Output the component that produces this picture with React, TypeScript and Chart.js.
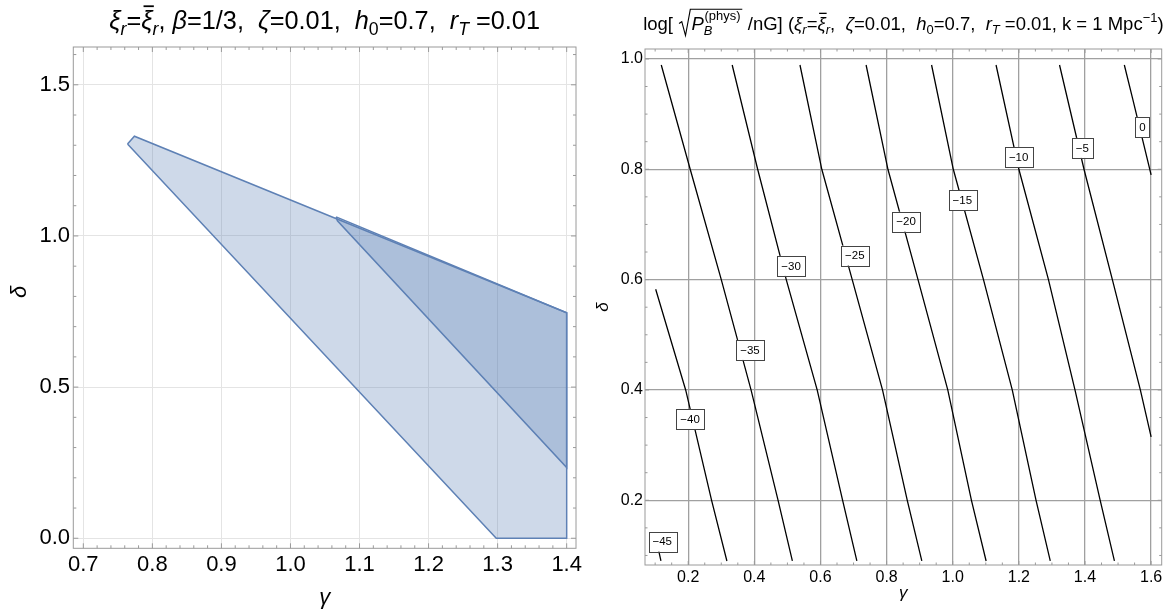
import React, { useEffect, useRef } from 'react';
import { Chart, registerables } from 'chart.js';

Chart.register(...registerables);

const FONT = '"Liberation Sans", Arial, Helvetica, sans-serif';

// ---------- Left panel data ----------
const lightGamma = [0.764, 0.774, 1.4, 1.4, 1.298, 0.764];
const lightDelta = [1.304, 1.33, 0.746, 0.0, 0.0, 1.304];
const darkGamma = [1.066, 1.4, 1.4, 1.068, 1.066];
const darkDelta = [1.063, 0.746, 0.234, 1.05, 1.063];
const leftXTicks = [0.7, 0.8, 0.9, 1.0, 1.1, 1.2, 1.3, 1.4];
const leftYTicks = [0.0, 0.5, 1.0, 1.5];

// ---------- Right panel data ----------
const contourLevels = [-45, -40, -35, -30, -25, -20, -15, -10, -5, 0];
const contourGamma = [
  [0.103, 0.1175],
  [0.1016, 0.1923, 0.2707, 0.317],
  [0.1185, 0.206, 0.3, 0.39, 0.4718, 0.515],
  [0.333, 0.41, 0.4965, 0.59, 0.667, 0.71],
  [0.538, 0.604, 0.696, 0.7876, 0.8625, 0.9065],
  [0.738, 0.804, 0.895, 0.985, 1.0566, 1.101],
  [0.936, 1.0017, 1.093, 1.18, 1.252, 1.295],
  [1.131, 1.2, 1.2895, 1.3697, 1.446, 1.489],
  [1.323, 1.397, 1.4828, 1.5674, 1.6],
  [1.519, 1.545, 1.6],
];
const contourDelta = [
  [0.13, 0.09],
  [0.5825, 0.4, 0.2, 0.09],
  [0.989, 0.8, 0.6, 0.4, 0.2, 0.09],
  [0.989, 0.8, 0.6, 0.4, 0.2, 0.09],
  [0.989, 0.8, 0.6, 0.4, 0.2, 0.09],
  [0.989, 0.8, 0.6, 0.4, 0.2, 0.09],
  [0.989, 0.8, 0.6, 0.4, 0.2, 0.09],
  [0.989, 0.8, 0.6, 0.4, 0.2, 0.09],
  [0.989, 0.8, 0.6, 0.4, 0.315],
  [0.989, 0.9257, 0.79],
];
const labelGamma = [0.1215, 0.2055, 0.3867, 0.511, 0.704, 0.859, 1.029, 1.1994, 1.3917, 1.574];
const labelDelta = [0.125, 0.347, 0.4725, 0.6248, 0.6435, 0.705, 0.7438, 0.8218, 0.8387, 0.876];
const rightXTicks = [0.2, 0.4, 0.6, 0.8, 1.0, 1.2, 1.4, 1.6];
const rightYTicks = [0.2, 0.4, 0.6, 0.8, 1.0];

const fmtLevel = (v: number) => (v < 0 ? '\u2212' + Math.abs(v) : String(v));

function minorList(from: number, to: number, step: number, majors: number[]) {
  const out: number[] = [];
  const n = Math.round((to - from) / step);
  for (let i = 0; i <= n; i++) {
    const v = +(from + i * step).toFixed(4);
    if (!majors.some((m) => Math.abs(m - v) < 1e-6)) out.push(v);
  }
  return out;
}

// ---------- rich text ----------
type Seg = {
  t: string;
  it?: boolean;
  sub?: boolean;
  sup?: boolean;
  bar?: boolean;
  stackSup?: string;
  stackSub?: string;
  sqrt?: Seg[];
};

const fnt = (it: boolean | undefined, size: number) => `${it ? 'italic ' : ''}${size}px ${FONT}`;

function segW(ctx: CanvasRenderingContext2D, s: Seg, size: number): number {
  if (s.sqrt) return size * 0.72 + totalW(ctx, s.sqrt, size) + size * 0.12;
  ctx.font = fnt(s.it, s.sub || s.sup ? size * 0.7 : size);
  let w = ctx.measureText(s.t).width;
  if (s.stackSup || s.stackSub) {
    ctx.font = fnt(false, size * 0.7);
    const a = ctx.measureText(s.stackSup || '').width;
    ctx.font = fnt(true, size * 0.7);
    const b = ctx.measureText(s.stackSub || '').width;
    w += Math.max(a, b) + size * 0.04;
  }
  return w;
}
function totalW(ctx: CanvasRenderingContext2D, segs: Seg[], size: number) {
  let w = 0;
  for (const s of segs) w += segW(ctx, s, size);
  return w;
}
function drawSegs(ctx: CanvasRenderingContext2D, segs: Seg[], x: number, y: number, size: number) {
  for (const s of segs) {
    if (s.sqrt) {
      const inner = totalW(ctx, s.sqrt, size);
      const top = y - size * 1.12;
      const bottom = y + size * 0.3;
      ctx.beginPath();
      ctx.lineWidth = size * 0.06;
      ctx.moveTo(x + size * 0.05, y - size * 0.35);
      ctx.lineTo(x + size * 0.2, y - size * 0.45);
      ctx.lineTo(x + size * 0.4, bottom);
      ctx.lineTo(x + size * 0.66, top);
      ctx.lineTo(x + size * 0.72 + inner + size * 0.1, top);
      ctx.stroke();
      drawSegs(ctx, s.sqrt, x + size * 0.72, y, size);
      x += segW(ctx, s, size);
      continue;
    }
    const sz = s.sub || s.sup ? size * 0.7 : size;
    ctx.font = fnt(s.it, sz);
    const dy = s.sub ? size * 0.22 : s.sup ? -size * 0.42 : 0;
    ctx.fillText(s.t, x, y + dy);
    const w = ctx.measureText(s.t).width;
    if (s.bar) {
      ctx.beginPath();
      ctx.lineWidth = size * 0.07;
      ctx.moveTo(x + w * 0.2, y - size * 0.9);
      ctx.lineTo(x + w + size * 0.05, y - size * 0.9);
      ctx.stroke();
    }
    if (s.stackSup || s.stackSub) {
      ctx.font = fnt(false, size * 0.7);
      const a = ctx.measureText(s.stackSup || '').width;
      ctx.fillText(s.stackSup || '', x + w + size * 0.04, y - size * 0.55);
      ctx.font = fnt(true, size * 0.7);
      const b = ctx.measureText(s.stackSub || '').width;
      ctx.fillText(s.stackSub || '', x + w, y + size * 0.28);
      x += w + Math.max(a, b) + size * 0.04;
    } else {
      x += w;
    }
  }
  return x;
}
function drawCentered(ctx: CanvasRenderingContext2D, segs: Seg[], cx: number, y: number, size: number) {
  ctx.save();
  ctx.fillStyle = '#000';
  ctx.strokeStyle = '#000';
  ctx.textAlign = 'left';
  ctx.textBaseline = 'alphabetic';
  const w = totalW(ctx, segs, size);
  drawSegs(ctx, segs, cx - w / 2, y, size);
  ctx.restore();
}

const leftTitle: Seg[] = [
  { t: '\u03BE', it: true },
  { t: 'r', it: true, sub: true },
  { t: '=' },
  { t: '\u03BE', it: true, bar: true },
  { t: 'r', it: true, sub: true },
  { t: ', ' },
  { t: '\u03B2', it: true },
  { t: '=1/3,  ' },
  { t: '\u03B6', it: true },
  { t: '=0.01,  ' },
  { t: 'h', it: true },
  { t: '0', sub: true },
  { t: '=0.7,  ' },
  { t: 'r', it: true },
  { t: 'T', it: true, sub: true },
  { t: ' =0.01' },
];

const rightTitle: Seg[] = [
  { t: 'log[ ' },
  { t: '', sqrt: [{ t: 'P', it: true, stackSup: '(phys)', stackSub: 'B' }] },
  { t: ' /nG] (' },
  { t: '\u03BE', it: true },
  { t: 'r', it: true, sub: true },
  { t: '=' },
  { t: '\u03BE', it: true, bar: true },
  { t: 'r', it: true, sub: true },
  { t: ',  ' },
  { t: '\u03B6', it: true },
  { t: '=0.01,  ' },
  { t: 'h', it: true },
  { t: '0', sub: true },
  { t: '=0.7,  ' },
  { t: 'r', it: true },
  { t: 'T', it: true, sub: true },
  { t: ' =0.01, k = 1 Mpc' },
  { t: '\u22121', sup: true },
  { t: ')' },
];

// ---------- plugins ----------
function framePlugin(
  id: string,
  cfg: { xMajor: number[]; xMinor: number[]; yMajor: number[]; yMinor: number[]; majorLen: number; minorLen: number; color: string }
) {
  return {
    id,
    afterDatasetsDraw(chart: any) {
      const { ctx, chartArea: a, scales } = chart;
      const sx = scales.x;
      const sy = scales.y;
      ctx.save();
      ctx.strokeStyle = cfg.color;
      ctx.lineWidth = 1;
      ctx.strokeRect(a.left, a.top, a.right - a.left, a.bottom - a.top);
      ctx.beginPath();
      const tx = (v: number, len: number) => {
        const p = sx.getPixelForValue(v);
        if (p < a.left - 0.5 || p > a.right + 0.5) return;
        ctx.moveTo(p, a.bottom);
        ctx.lineTo(p, a.bottom - len);
        ctx.moveTo(p, a.top);
        ctx.lineTo(p, a.top + len);
      };
      const ty = (v: number, len: number) => {
        const p = sy.getPixelForValue(v);
        if (p < a.top - 0.5 || p > a.bottom + 0.5) return;
        ctx.moveTo(a.left, p);
        ctx.lineTo(a.left + len, p);
        ctx.moveTo(a.right, p);
        ctx.lineTo(a.right - len, p);
      };
      cfg.xMajor.forEach((v) => tx(v, cfg.majorLen));
      cfg.xMinor.forEach((v) => tx(v, cfg.minorLen));
      cfg.yMajor.forEach((v) => ty(v, cfg.majorLen));
      cfg.yMinor.forEach((v) => ty(v, cfg.minorLen));
      ctx.stroke();
      ctx.restore();
    },
  };
}

function textPlugin(id: string, draw: (chart: any) => void) {
  return { id, afterDraw: draw };
}

const contourLabelPlugin = {
  id: 'contourLabels',
  afterDatasetsDraw(chart: any) {
    const { ctx, scales } = chart;
    ctx.save();
    ctx.font = `11.5px ${FONT}`;
    ctx.textAlign = 'center';
    ctx.textBaseline = 'middle';
    contourLevels.forEach((lv, i) => {
      const txt = fmtLevel(lv);
      const px = scales.x.getPixelForValue(labelGamma[i]);
      const py = scales.y.getPixelForValue(labelDelta[i]);
      const w = ctx.measureText(txt).width + 8;
      const h = 20;
      ctx.fillStyle = '#fff';
      ctx.fillRect(px - w / 2, py - h / 2, w, h);
      ctx.strokeStyle = '#444';
      ctx.lineWidth = 1;
      ctx.strokeRect(Math.round(px - w / 2) + 0.5, Math.round(py - h / 2) + 0.5, Math.round(w), h);
      ctx.fillStyle = '#000';
      ctx.fillText(txt, px, py + 0.5);
    });
    ctx.restore();
  },
};

function linScale(opts: {
  min: number;
  max: number;
  ticks: number[];
  size: number;
  padding: number;
  gridColor: string;
  gridWidth: number;
  fixW?: number;
  fixH?: number;
}) {
  return {
    type: 'linear',
    min: opts.min,
    max: opts.max,
    afterBuildTicks: (s: any) => {
      s.ticks = opts.ticks.map((v) => ({ value: v }));
    },
    afterFit: (s: any) => {
      if (opts.fixW !== undefined) s.width = opts.fixW;
      if (opts.fixH !== undefined) s.height = opts.fixH;
      s.paddingLeft = 0;
      s.paddingRight = 0;
      s.paddingTop = 0;
      s.paddingBottom = 0;
    },
    grid: { color: opts.gridColor, lineWidth: opts.gridWidth, drawTicks: false },
    border: { display: false },
    ticks: {
      autoSkip: false,
      maxRotation: 0,
      minRotation: 0,
      padding: opts.padding,
      color: '#000',
      font: { size: opts.size, family: FONT },
      callback: (v: any) => Number(v).toFixed(1),
    },
  };
}

export default function App() {
  const leftRef = useRef<HTMLCanvasElement>(null);
  const rightRef = useRef<HTMLCanvasElement>(null);

  useEffect(() => {
    const leftChart = new Chart(leftRef.current as HTMLCanvasElement, {
      type: 'line',
      data: {
        datasets: [
          {
            data: lightGamma.map((g, i) => ({ x: g, y: lightDelta[i] })),
            fill: 'shape',
            backgroundColor: 'rgba(94,129,181,0.3)',
            borderColor: 'rgb(94,129,181)',
            borderWidth: 1.5,
            pointRadius: 0,
            tension: 0,
          },
          {
            data: darkGamma.map((g, i) => ({ x: g, y: darkDelta[i] })),
            fill: 'shape',
            backgroundColor: 'rgba(94,129,181,0.3)',
            borderColor: 'rgb(94,129,181)',
            borderWidth: 1.5,
            pointRadius: 0,
            tension: 0,
          },
        ] as any,
      },
      options: {
        animation: false,
        responsive: false,
        layout: { padding: { left: 0, right: 8, top: 47, bottom: 0 } },
        plugins: { legend: { display: false }, tooltip: { enabled: false }, title: { display: false } },
        scales: {
          x: linScale({ min: 0.6855, max: 1.4135, ticks: leftXTicks, size: 22, padding: 3.5, gridColor: '#e4e4e4', gridWidth: 1, fixH: 61.7 }),
          y: linScale({ min: -0.0332, max: 1.625, ticks: leftYTicks, size: 22, padding: 3.3, gridColor: '#e4e4e4', gridWidth: 1, fixW: 73.3 }),
        } as any,
      },
      plugins: [
        framePlugin('frameL', {
          xMajor: leftXTicks,
          xMinor: minorList(0.7, 1.4, 0.02, leftXTicks),
          yMajor: leftYTicks,
          yMinor: minorList(0, 1.6, 0.1, leftYTicks),
          majorLen: 5,
          minorLen: 3,
          color: '#9a9a9a',
        }),
        textPlugin('textL', (chart: any) => {
          const ctx = chart.ctx as CanvasRenderingContext2D;
          const a = chart.chartArea;
          const cx = (a.left + a.right) / 2;
          drawCentered(ctx, leftTitle, cx, 29, 25.3);
          drawCentered(ctx, [{ t: '\u03B3', it: true }], cx, 604, 22);
          ctx.save();
          ctx.translate(20, 292);
          ctx.rotate(-Math.PI / 2);
          ctx.font = fnt(true, 22);
          ctx.textAlign = 'center';
          ctx.textBaseline = 'middle';
          ctx.fillStyle = '#000';
          ctx.fillText('\u03B4', 0, 0);
          ctx.restore();
        }),
      ],
    } as any);

    const rightChart = new Chart(rightRef.current as HTMLCanvasElement, {
      type: 'line',
      data: {
        datasets: contourLevels.map((lv, k) => ({
          label: String(lv),
          data: contourGamma[k].map((g, i) => ({ x: g, y: contourDelta[k][i] })),
          fill: false,
          borderColor: '#000',
          borderWidth: 1.3,
          pointRadius: 0,
          tension: 0,
        })) as any,
      },
      options: {
        animation: false,
        responsive: false,
        layout: { padding: { left: 0, right: 7.3, top: 49, bottom: 0 } },
        plugins: { legend: { display: false }, tooltip: { enabled: false }, title: { display: false } },
        scales: {
          x: linScale({ min: 0.0693, max: 1.632, ticks: rightXTicks, size: 16, padding: 3.4, gridColor: '#a0a0a0', gridWidth: 1.3, fixH: 45 }),
          y: linScale({ min: 0.0827, max: 1.018, ticks: rightYTicks, size: 16, padding: 2, gridColor: '#a0a0a0', gridWidth: 1.3, fixW: 61 }),
        } as any,
      },
      plugins: [
        contourLabelPlugin,
        framePlugin('frameR', {
          xMajor: rightXTicks,
          xMinor: minorList(0.1, 1.6, 0.05, rightXTicks),
          yMajor: rightYTicks,
          yMinor: minorList(0.1, 1.0, 0.05, rightYTicks),
          majorLen: 4,
          minorLen: 2.5,
          color: '#9a9a9a',
        }),
        textPlugin('textR', (chart: any) => {
          const ctx = chart.ctx as CanvasRenderingContext2D;
          const a = chart.chartArea;
          const cx = (a.left + a.right) / 2;
          drawCentered(ctx, rightTitle, cx, 30, 18.5);
          drawCentered(ctx, [{ t: '\u03B3', it: true }], cx, 598, 17);
          ctx.save();
          ctx.translate(19.7, 307);
          ctx.rotate(-Math.PI / 2);
          ctx.font = fnt(true, 17);
          ctx.textAlign = 'center';
          ctx.textBaseline = 'middle';
          ctx.fillStyle = '#000';
          ctx.fillText('\u03B4', 0, 0);
          ctx.restore();
        }),
      ],
    } as any);

    return () => {
      leftChart.destroy();
      rightChart.destroy();
    };
  }, []);

  return (
    <div style={{ position: 'fixed', left: 0, top: 0, width: 1169, height: 610, background: '#fff' }}>
      <canvas ref={leftRef} width={584} height={610} style={{ position: 'absolute', left: 0, top: 0, width: 584, height: 610 }} />
      <canvas ref={rightRef} width={585} height={610} style={{ position: 'absolute', left: 584, top: 0, width: 585, height: 610 }} />
    </div>
  );
}
